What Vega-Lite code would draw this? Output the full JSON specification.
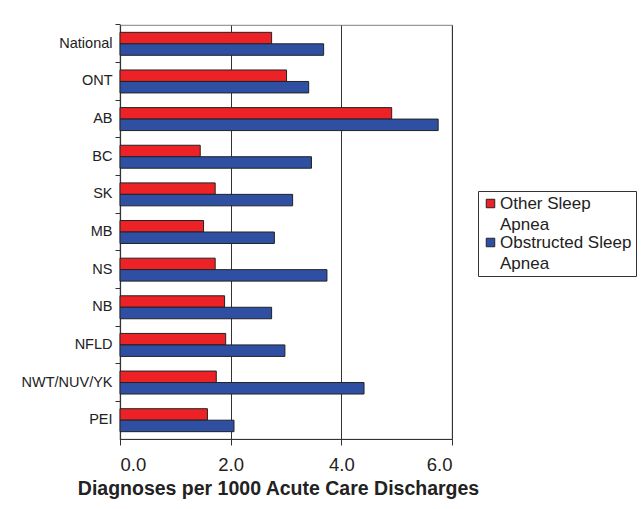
{
  "$schema": "https://vega.github.io/schema/vega-lite/v6.json",
  "autosize": {"type": "none"},
  "padding": {"left": 120, "top": 25, "right": 190, "bottom": 70},
  "width": 332,
  "height": 414,
  "background": "white",
  "config": {
    "font": "Liberation Sans",
    "view": {"stroke": "#9a9a9a", "strokeWidth": 1.2},
    "style": {"guide-label": {"lineHeight": 21}}
  },
  "data": {
    "values": [
      {"region": "National", "series": "Other Sleep Apnea", "value": 2.74},
      {"region": "National", "series": "Obstructed Sleep Apnea", "value": 3.68},
      {"region": "ONT", "series": "Other Sleep Apnea", "value": 3.01},
      {"region": "ONT", "series": "Obstructed Sleep Apnea", "value": 3.41},
      {"region": "AB", "series": "Other Sleep Apnea", "value": 4.91},
      {"region": "AB", "series": "Obstructed Sleep Apnea", "value": 5.75},
      {"region": "BC", "series": "Other Sleep Apnea", "value": 1.45},
      {"region": "BC", "series": "Obstructed Sleep Apnea", "value": 3.46},
      {"region": "SK", "series": "Other Sleep Apnea", "value": 1.72},
      {"region": "SK", "series": "Obstructed Sleep Apnea", "value": 3.12},
      {"region": "MB", "series": "Other Sleep Apnea", "value": 1.51},
      {"region": "MB", "series": "Obstructed Sleep Apnea", "value": 2.79},
      {"region": "NS", "series": "Other Sleep Apnea", "value": 1.72},
      {"region": "NS", "series": "Obstructed Sleep Apnea", "value": 3.74},
      {"region": "NB", "series": "Other Sleep Apnea", "value": 1.89},
      {"region": "NB", "series": "Obstructed Sleep Apnea", "value": 2.74},
      {"region": "NFLD", "series": "Other Sleep Apnea", "value": 1.91},
      {"region": "NFLD", "series": "Obstructed Sleep Apnea", "value": 2.98},
      {"region": "NWT/NUV/YK", "series": "Other Sleep Apnea", "value": 1.74},
      {"region": "NWT/NUV/YK", "series": "Obstructed Sleep Apnea", "value": 4.41},
      {"region": "PEI", "series": "Other Sleep Apnea", "value": 1.58},
      {"region": "PEI", "series": "Obstructed Sleep Apnea", "value": 2.06}
    ]
  },
  "mark": {"type": "bar", "stroke": "#222222", "strokeWidth": 1},
  "encoding": {
    "y": {
      "field": "region",
      "type": "nominal",
      "sort": null,
      "scale": {"paddingInner": 0.39, "paddingOuter": 0.195},
      "axis": {
        "title": null,
        "ticks": true,
        "bandPosition": -0.32,
        "tickSize": 5,
        "tickColor": "#333333",
        "labelPadding": 3,
        "labelFontSize": 14.5,
        "labelColor": "#222222",
        "domainColor": "#333333",
        "domainWidth": 1.2,
        "grid": false
      }
    },
    "yOffset": {
      "field": "series",
      "type": "nominal",
      "sort": ["Other Sleep Apnea", "Obstructed Sleep Apnea"],
      "scale": {"paddingInner": 0, "paddingOuter": 0}
    },
    "x": {
      "field": "value",
      "type": "quantitative",
      "scale": {"domain": [0, 6], "nice": false},
      "axis": {
        "title": "Diagnoses per 1000 Acute Care Discharges",
        "values": [0, 2, 4, 6],
        "format": ".1f",
        "grid": true,
        "gridColor": "#333333",
        "gridWidth": 1,
        "gridOpacity": 1,
        "tickColor": "#333333",
        "tickSize": 6,
        "domainColor": "#333333",
        "domainWidth": 1.2,
        "labelFontSize": 18.5,
        "labelColor": "#222222",
        "labelPadding": 10,
        "titleFontSize": 19.5,
        "titleFontWeight": "bold",
        "titleColor": "#222222",
        "titleX": 158,
        "titleY": 40,
        "titleAlign": "center",
        "titleBaseline": "top"
      }
    },
    "color": {
      "field": "series",
      "type": "nominal",
      "sort": ["Other Sleep Apnea", "Obstructed Sleep Apnea"],
      "scale": {
        "domain": ["Other Sleep Apnea", "Obstructed Sleep Apnea"],
        "range": ["#ED2226", "#2E4FA2"]
      },
      "legend": {
        "title": null,
        "orient": "none",
        "legendX": 358,
        "legendY": 166,
        "strokeColor": "#333333",
        "fillColor": "white",
        "padding": 4,
        "symbolType": "square",
        "symbolSize": 72,
        "symbolStrokeColor": "#222222",
        "symbolStrokeWidth": 1,
        "symbolOpacity": 1,
        "labelFontSize": 17,
        "labelColor": "#222222",
        "labelLimit": 200,
        "rowPadding": 0,
        "labelOffset": 1,
        "labelExpr": "datum.label == 'Other Sleep Apnea' ? ['Other Sleep', 'Apnea'] : ['Obstructed Sleep', 'Apnea']"
      }
    }
  }
}
